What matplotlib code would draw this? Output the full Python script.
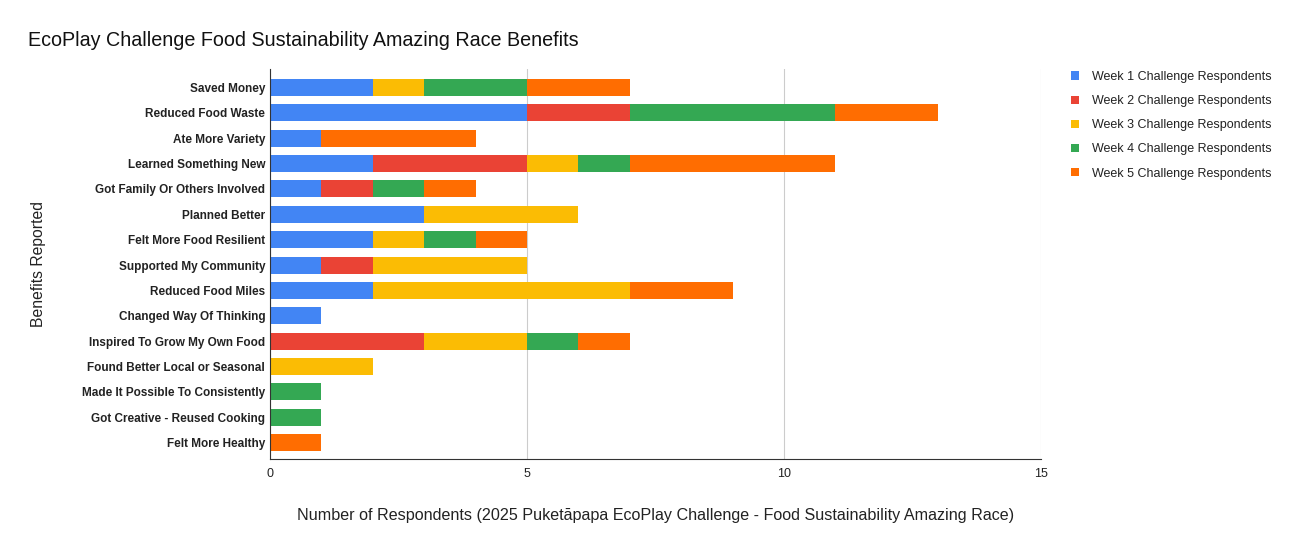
import matplotlib
matplotlib.use("Agg")
import matplotlib.pyplot as plt
import numpy as np

categories = [
    "Saved Money", "Reduced Food Waste", "Ate More Variety", "Learned Something New",
    "Got Family Or Others Involved", "Planned Better", "Felt More Food Resilient",
    "Supported My Community", "Reduced Food Miles", "Changed Way Of Thinking",
    "Inspired To Grow My Own Food", "Found Better Local or Seasonal",
    "Made It Possible To Consistently", "Got Creative - Reused Cooking", "Felt More Healthy",
]
series_names = [
    "Week 1 Challenge Respondents", "Week 2 Challenge Respondents",
    "Week 3 Challenge Respondents", "Week 4 Challenge Respondents",
    "Week 5 Challenge Respondents",
]
week1 = [2, 5, 1, 2, 1, 3, 2, 1, 2, 1, 0, 0, 0, 0, 0]
week2 = [0, 2, 0, 3, 1, 0, 0, 1, 0, 0, 3, 0, 0, 0, 0]
week3 = [1, 0, 0, 1, 0, 3, 1, 3, 5, 0, 2, 2, 0, 0, 0]
week4 = [2, 4, 0, 1, 1, 0, 1, 0, 0, 0, 1, 0, 1, 1, 0]
week5 = [2, 2, 3, 4, 1, 0, 1, 0, 2, 0, 1, 0, 0, 0, 1]
colors = ["#4285F4", "#EA4335", "#FBBC04", "#34A853", "#FF6D01"]

plt.rcParams['font.family'] = ['Liberation Sans', 'DejaVu Sans']

fig = plt.figure(figsize=(12.99, 5.5), dpi=100)
ax = fig.add_axes([270/1299, 1-459/550, (1041-270)/1299, (459-69)/550])

y = np.arange(len(categories))
left = np.zeros(len(categories))
for name, vals, c in zip(series_names, [week1, week2, week3, week4, week5], colors):
    v = np.array(vals, dtype=float)
    ax.barh(y, v, left=left, height=0.67, color=c, label=name, zorder=3)
    left += v

ax.set_ylim(len(categories) - 1 + 0.65, -0.73)
ax.set_xlim(0, 15)
ax.set_xticks([0, 5, 10, 15])
ax.set_yticks(y)
ax.set_yticklabels(categories, fontsize=8.5, fontweight='bold', color='#222222')
ax.tick_params(axis='y', length=0, pad=3.5)
ax.tick_params(axis='x', length=0, pad=6.8, labelsize=9, colors='#222222')
ax.grid(axis='x', color='#cccccc', linewidth=0.8, zorder=0)
for s in ['top', 'right']:
    ax.spines[s].set_visible(False)
ax.spines['left'].set_color('#333333')
ax.spines['bottom'].set_color('#333333')
ax.spines['left'].set_zorder(4)
ax.spines['bottom'].set_zorder(4)

ax.set_xlabel("Number of Respondents (2025 Puketāpapa EcoPlay Challenge - Food Sustainability Amazing Race)",
              fontsize=11.6, color='#222222', labelpad=20)
ax.set_ylabel("Benefits Reported", fontsize=11.3, color='#222222')
ax.yaxis.set_label_coords(-0.290, 0.5)

fig.text(28/1299, 1-40/550, "EcoPlay Challenge Food Sustainability Amazing Race Benefits",
         fontsize=14.25, color='#111111', va='center', ha='left')

leg = ax.legend(loc='upper left', bbox_to_anchor=(1066/1299, 1-66/550), bbox_transform=fig.transFigure,
                frameon=False, fontsize=9, handlelength=0.65, handleheight=0.65,
                labelspacing=0.97, handletextpad=1.0, borderaxespad=0)
for t in leg.get_texts():
    t.set_color('#222222')

fig.savefig("out.png", dpi=100)
